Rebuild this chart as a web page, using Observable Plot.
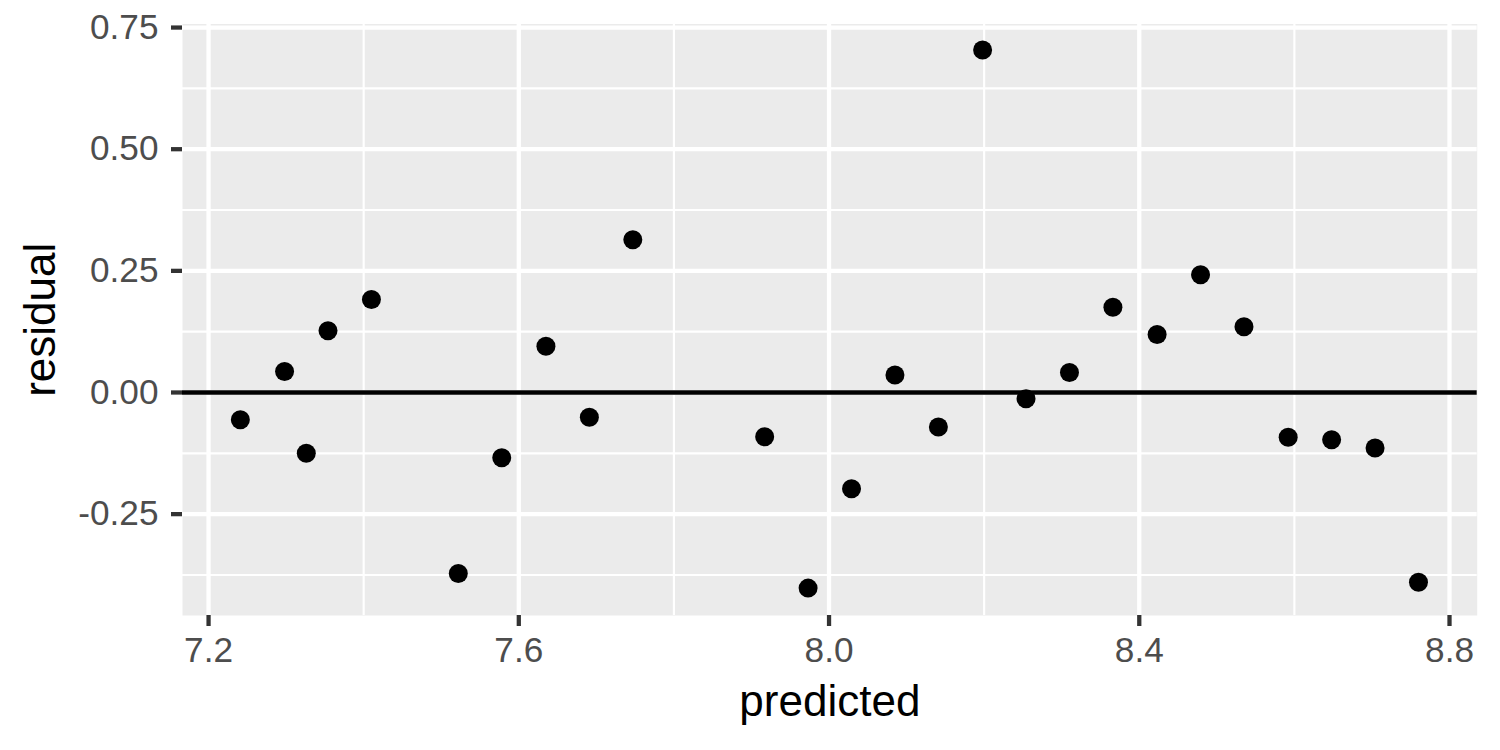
<!DOCTYPE html>
<html>
<head>
<meta charset="utf-8">
<script src="https://cdn.jsdelivr.net/npm/d3@7"></script>
<script src="https://cdn.jsdelivr.net/npm/@observablehq/plot@0.6"></script>
<style>
  html, body { margin: 0; padding: 0; background: #ffffff; }
  #chart svg { display: block; }
</style>
</head>
<body>
<div id="chart"></div>
<script>
const predicted = [7.241, 7.298, 7.326, 7.354, 7.410, 7.522, 7.578, 7.635, 7.691, 7.747,
                   7.917, 7.973, 8.029, 8.085, 8.141, 8.198, 8.254, 8.310, 8.366, 8.423,
                   8.479, 8.535, 8.592, 8.648, 8.704, 8.760];
const residual  = [-0.056, 0.043, -0.125, 0.127, 0.191, -0.372, -0.134, 0.095, -0.051, 0.314,
                   -0.091, -0.402, -0.198, 0.036, -0.071, 0.704, -0.013, 0.041, 0.175, 0.119,
                   0.242, 0.135, -0.092, -0.097, -0.114, -0.390];

const xMajor = [7.2, 7.6, 8.0, 8.4, 8.8];
const xMinor = [7.4, 7.8, 8.2, 8.6];
const yMajor = [-0.25, 0, 0.25, 0.5, 0.75];
const yMinor = [-0.375, -0.125, 0.125, 0.375, 0.625];

const xTitle = "predicted";
const yTitle = "residual";

const data = predicted.map((p, i) => ({predicted: p, residual: residual[i]}));

const font = "'Liberation Sans', Arial, Helvetica, sans-serif";
const lw = 4.27;

const chart = Plot.plot({
  width: 1500,
  height: 750,
  marginLeft: 182,
  marginRight: 23.3,
  marginTop: 23.5,
  marginBottom: 135,
  style: {background: "#ffffff", fontFamily: font, overflow: "visible"},
  x: {domain: [7.1664, 8.8357]},
  y: {domain: [-0.4583, 0.7573]},
  marks: [
    Plot.frame({fill: "#EBEBEB", stroke: "none"}),
    Plot.ruleX(xMinor, {stroke: "#ffffff", strokeWidth: lw / 2}),
    Plot.ruleY(yMinor, {stroke: "#ffffff", strokeWidth: lw / 2}),
    Plot.ruleX(xMajor, {stroke: "#ffffff", strokeWidth: lw}),
    Plot.ruleY(yMajor, {stroke: "#ffffff", strokeWidth: lw}),
    Plot.ruleY([0], {stroke: "#000000", strokeWidth: lw}),
    Plot.dot(data, {x: "predicted", y: "residual", r: 9.5, fill: "#000000", stroke: "none"}),
    Plot.axisX({
      ticks: xMajor, tickFormat: d => d.toFixed(1), tickSize: 11, tickPadding: 10.7,
      stroke: "#333333", strokeWidth: lw, fill: "#4D4D4D", fontSize: 35.2, label: null
    }),
    Plot.axisY({
      ticks: yMajor, tickFormat: d => d.toFixed(2), tickSize: 11, tickPadding: 13,
      stroke: "#333333", strokeWidth: lw, fill: "#4D4D4D", fontSize: 35.2, label: null
    }),
    Plot.text([xTitle], {
      text: d => d, frameAnchor: "bottom", lineAnchor: "bottom", dy: 100.7,
      fontSize: 44, fill: "#000000", textAnchor: "middle"
    }),
    Plot.text([yTitle], {
      text: d => d, frameAnchor: "left", lineAnchor: "bottom", rotate: -90, dx: -127.5,
      fontSize: 44, fill: "#000000", textAnchor: "middle"
    })
  ]
});

document.getElementById("chart").appendChild(chart);
</script>
</body>
</html>
